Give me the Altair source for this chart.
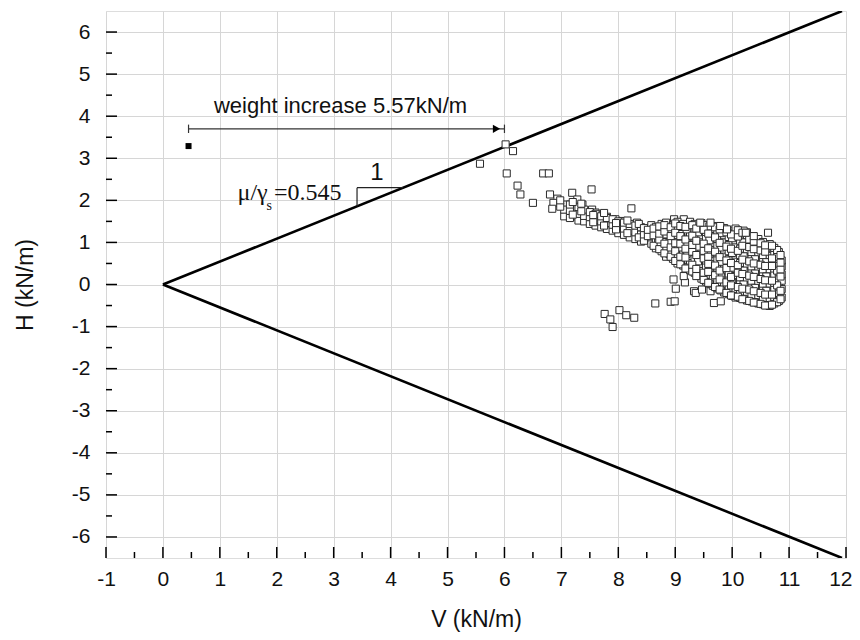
import altair as alt
import pandas as pd

# ---------------- data ----------------
x_ticks = list(range(-1, 13))
y_ticks = list(range(-6, 7))
x_minor = [i + 0.5 for i in range(-1, 12)]
y_minor = [i + 0.5 for i in range(-6, 6)]

# failure envelope (slope mu/gamma_s = 0.545)
env_V = [0, 11.93, 0, 11.93]
env_H = [0, 6.5, 0, -6.5]
env_seg = ["up", "up", "down", "down"]

# sparse / stream points
sparse_V = [5.57, 6.02, 6.15, 6.04, 6.68, 6.78, 6.23, 6.28, 6.50, 6.80, 6.93, 6.86, 6.84,
            7.19, 7.28, 7.37, 7.10, 7.13, 7.22, 7.34, 7.25, 7.53, 7.54, 7.60, 7.69, 7.51,
            7.72, 7.66, 7.80, 7.77, 8.23, 7.95, 8.07, 8.13, 8.21, 8.33, 8.39, 8.18, 8.48,
            8.57, 8.65, 8.51, 8.74, 8.98, 9.15, 8.92, 9.04, 9.21]
sparse_H = [2.87, 3.33, 3.17, 2.64, 2.64, 2.64, 2.35, 2.14, 1.94, 2.14, 2.04, 1.94, 1.80,
            2.18, 2.02, 1.90, 1.90, 1.74, 1.62, 1.59, 1.82, 2.26, 1.78, 1.71, 1.66, 1.56,
            1.39, 1.55, 1.61, 1.51, 1.81, 1.55, 1.51, 1.39, 1.43, 1.47, 1.35, 1.31, 1.31,
            1.35, 1.27, 1.17, 1.23, 1.55, 1.55, 1.39, 1.43, 1.39]

stream_cols = {
    7.05: [1.62, 1.78], 7.15: [1.58, 1.75, 1.90], 7.30: [1.52, 1.68, 1.84],
    7.40: [1.50, 1.63, 1.78], 7.50: [1.44, 1.60, 1.72], 7.60: [1.40, 1.53, 1.68],
    7.70: [1.36, 1.50, 1.62], 7.80: [1.32, 1.46, 1.58], 7.90: [1.28, 1.42, 1.55],
    8.00: [1.22, 1.37, 1.50], 8.10: [1.18, 1.33, 1.47], 8.20: [1.12, 1.28, 1.44],
    8.30: [1.08, 1.24, 1.40], 8.40: [1.02, 1.19, 1.36],
    6.98: [1.85, 2.00], 7.20: [1.66, 1.96], 7.35: [1.74, 1.92],
    7.56: [1.48, 1.65], 7.75: [1.40, 1.70], 7.96: [1.31, 1.46],
    8.16: [1.22, 1.52], 8.36: [1.12, 1.44],
}

low_V = [7.76, 7.86, 7.90, 8.02, 8.14, 8.28, 8.65, 8.92, 8.99, 9.01, 8.97, 9.17, 9.15,
         9.33, 9.36, 9.47, 9.62, 9.68, 9.80]
low_H = [-0.70, -0.83, -1.01, -0.61, -0.73, -0.79, -0.45, -0.41, -0.40, -0.10, 0.12, 0.05,
         0.20, -0.16, -0.20, -0.12, -0.16, -0.44, -0.40]

dense_cols = {
    8.45: [1.04, 1.19, 1.34],
    8.58: [0.97, 1.12, 1.27, 1.41],
    8.66: [0.86, 1.05, 1.22, 1.37],
    8.76: [0.79, 0.93, 1.12, 1.29, 1.44],
    8.84: [0.66, 0.86, 1.01, 1.19, 1.34, 1.47],
    8.96: [0.61, 0.74, 0.94, 1.08, 1.26, 1.40],
    9.04: [0.50, 0.70, 0.85, 1.04, 1.18, 1.36, 1.49],
    9.14: [0.45, 0.59, 0.79, 0.93, 1.11, 1.26, 1.44],
    9.26: [0.34, 0.53, 0.68, 0.87, 1.02, 1.20, 1.35, 1.49],
    9.34: [0.28, 0.43, 0.62, 0.77, 0.96, 1.11, 1.29, 1.44],
    9.46: [0.14, 0.34, 0.49, 0.68, 0.83, 1.02, 1.17, 1.35, 1.46],
    9.54: [0.07, 0.23, 0.42, 0.57, 0.76, 0.91, 1.10, 1.25, 1.41],
    9.66: [-0.03, 0.16, 0.31, 0.50, 0.65, 0.84, 0.99, 1.18, 1.32],
    9.74: [-0.09, 0.06, 0.25, 0.40, 0.59, 0.74, 0.93, 1.08, 1.27, 1.39],
    9.86: [-0.19, 0.00, 0.15, 0.34, 0.49, 0.68, 0.83, 1.02, 1.17, 1.34],
    9.94: [-0.23, -0.08, 0.11, 0.26, 0.45, 0.60, 0.79, 0.94, 1.13, 1.28],
    10.06: [-0.31, -0.12, 0.03, 0.22, 0.37, 0.56, 0.71, 0.90, 1.05, 1.24, 1.33],
    10.14: [-0.32, -0.17, 0.02, 0.17, 0.36, 0.51, 0.70, 0.85, 1.04, 1.19],
    10.26: [-0.38, -0.19, -0.04, 0.15, 0.30, 0.49, 0.64, 0.83, 0.98, 1.17, 1.24],
    10.34: [-0.40, -0.25, -0.06, 0.09, 0.28, 0.43, 0.62, 0.77, 0.96, 1.11],
    10.46: [-0.45, -0.26, -0.11, 0.08, 0.23, 0.42, 0.57, 0.76, 0.91, 1.08],
    10.54: [-0.47, -0.32, -0.13, 0.02, 0.21, 0.36, 0.55, 0.70, 0.89, 1.01],
    10.66: [-0.51, -0.32, -0.17, 0.02, 0.17, 0.36, 0.51, 0.70, 0.85, 0.96],
    10.74: [-0.45, -0.30, -0.11, 0.04, 0.23, 0.38, 0.57, 0.71, 0.87],
    10.82: [-0.39, -0.20, -0.05, 0.14, 0.29, 0.48, 0.61, 0.77],
    10.87: [-0.31, -0.11, 0.09, 0.24, 0.43, 0.57],
    8.70: [1.00, 1.30],
    8.90: [0.72, 1.00, 1.30],
    9.10: [0.55, 0.88, 1.20],
    9.20: [0.40, 0.73, 0.98, 1.31],
    9.40: [0.22, 0.55, 0.90, 1.24],
    9.60: [0.02, 0.38, 0.72, 1.05, 1.38],
    9.80: [-0.14, 0.20, 0.54, 0.88, 1.22],
    10.00: [-0.27, 0.06, 0.40, 0.75, 1.10],
    10.20: [-0.34, 0.00, 0.33, 0.67, 1.00, 1.28],
    10.40: [-0.42, -0.08, 0.26, 0.60, 0.94],
    10.60: [-0.49, -0.15, 0.19, 0.53, 0.86],
    10.79: [-0.42, -0.02, 0.33, 0.66, 0.82],
    8.52: [1.15, 1.30],
    8.62: [0.92, 1.17, 1.33],
    8.72: [0.84, 1.07, 1.21, 1.38],
    8.81: [0.74, 0.97, 1.26, 1.41],
    8.92: [0.66, 0.88, 1.15, 1.36],
    9.00: [0.56, 0.79, 0.98, 1.23, 1.45],
    9.09: [0.48, 0.66, 0.97, 1.15, 1.39],
    9.18: [0.38, 0.64, 0.85, 1.07, 1.37],
    9.30: [0.31, 0.47, 0.78, 0.94, 1.16, 1.41],
    9.37: [0.20, 0.37, 0.70, 1.04, 1.33],
    9.50: [0.11, 0.28, 0.62, 0.80, 0.97, 1.30],
    9.58: [0.04, 0.30, 0.49, 0.66, 0.86, 1.21],
    9.70: [-0.06, 0.22, 0.45, 0.78, 1.12, 1.36],
    9.78: [-0.12, 0.12, 0.33, 0.65, 0.99, 1.31],
    9.90: [-0.20, 0.05, 0.39, 0.57, 0.90, 1.24],
    9.98: [-0.26, -0.02, 0.18, 0.51, 0.85, 1.19],
    10.10: [-0.29, -0.06, 0.28, 0.46, 0.80, 1.14, 1.29],
    10.18: [-0.35, -0.10, 0.25, 0.59, 0.92, 1.23],
    10.30: [-0.39, -0.12, 0.21, 0.55, 0.89, 1.07],
    10.38: [-0.43, -0.16, 0.18, 0.50, 0.84, 1.02],
    10.50: [-0.46, -0.20, 0.13, 0.47, 0.81, 0.98],
    10.58: [-0.50, -0.24, 0.10, 0.44, 0.78, 0.93],
    10.70: [-0.48, -0.24, 0.09, 0.44, 0.62, 0.92],
    10.85: [-0.35, -0.15, 0.19, 0.36, 0.52, 0.70],
}
extra_V = [10.24, 10.63, 9.62, 9.44, 9.79, 9.91, 10.38]
extra_H = [1.23, 1.23, 1.47, 1.47, 1.39, 1.31, 1.15]

# annotation values
arrow_V = [0.45, 6.0]
arrow_H = 3.70
start_V, start_H = 0.45, 3.29
slope_V = [3.41, 4.22]
slope_H = [1.86, 2.30]

# ---------------- build tables ----------------
pts_V, pts_H = [], []
pts_V += sparse_V; pts_H += sparse_H
for v, hs in stream_cols.items():
    pts_V += [v] * len(hs); pts_H += hs
pts_V += low_V; pts_H += low_H
for v, hs in dense_cols.items():
    pts_V += [v] * len(hs); pts_H += hs
pts_V += extra_V; pts_H += extra_H
pts = pd.DataFrame({"V": pts_V, "H": pts_H})

env = pd.DataFrame({"V": env_V, "H": env_H, "seg": env_seg})

xs = alt.Scale(domain=[-1, 12], nice=False, zero=False)
ys = alt.Scale(domain=[-6.5, 6.5], nice=False, zero=False)
FONT = "Liberation Sans"

xaxis = alt.Axis(values=x_ticks, title="V (kN/m)", grid=True, gridColor="#d6d6d6",
                 gridWidth=1, ticks=False, domain=False, labelFont=FONT,
                 labelFontSize=21, labelColor="#111", labelPadding=10, labelFlush=False,
                 labelOverlap=False, titleFont=FONT, titleFontSize=23,
                 titleFontWeight="normal", titleColor="#111", titlePadding=19,
                 labelExpr="'' + datum.value",
                 labelAlign={"condition": {"test": "datum.value == 12", "value": "right"},
                             "value": "center"},
                 labelOffset={"condition": {"test": "datum.value == 12", "value": 6},
                              "value": 0})
yaxis = alt.Axis(values=y_ticks, title="H (kN/m)", grid=True, gridColor="#d6d6d6",
                 gridWidth=1, ticks=False, domain=False, labelFont=FONT,
                 labelFontSize=21, labelColor="#111", labelPadding=16, labelFlush=False,
                 labelOverlap=False, titleFont=FONT, titleFontSize=23,
                 titleFontWeight="normal", titleColor="#111", titlePadding=34,
                 labelExpr="'' + datum.value")

X = lambda f="V": alt.X(f"{f}:Q", scale=xs, axis=xaxis)
Y = lambda f="H": alt.Y(f"{f}:Q", scale=ys, axis=yaxis)

base = alt.Chart(pts).mark_point(shape="square", filled=True, fill="white",
                                 stroke="#2a2a2a", strokeWidth=1, size=50,
                                 opacity=1).encode(x=X(), y=Y())

lines = alt.Chart(env).mark_line(color="black", strokeWidth=2.6, clip=True).encode(
    x=X(), y=Y(), detail="seg:N")

# inward tick marks
xt_major = alt.Chart(pd.DataFrame({"V": x_ticks})).mark_rule(color="black", strokeWidth=1.5).encode(
    x=X(), y=alt.value(547), y2=alt.value(536))
xt_minor = alt.Chart(pd.DataFrame({"V": x_minor})).mark_rule(color="black", strokeWidth=1.5).encode(
    x=X(), y=alt.value(547), y2=alt.value(541))
yt_major = alt.Chart(pd.DataFrame({"H": y_ticks})).mark_rule(color="black", strokeWidth=1.5).encode(
    y=Y(), x=alt.value(0), x2=alt.value(11))
yt_minor = alt.Chart(pd.DataFrame({"H": y_minor})).mark_rule(color="black", strokeWidth=1.5).encode(
    y=Y(), x=alt.value(0), x2=alt.value(6))

# arrow "weight increase"
arrow_df = pd.DataFrame({"V": [arrow_V[0]], "V2": [arrow_V[1]], "H": [arrow_H]})
arrow = alt.Chart(arrow_df).mark_rule(color="#333", strokeWidth=1.2).encode(
    x=X(), x2="V2:Q", y=Y())
bars_df = pd.DataFrame({"V": arrow_V, "H": [arrow_H - 0.1] * 2, "H2": [arrow_H + 0.1] * 2})
bars = alt.Chart(bars_df).mark_rule(color="#333", strokeWidth=1.2).encode(
    x=X(), y=Y(), y2="H2:Q")
head = alt.Chart(pd.DataFrame({"V": [arrow_V[1] - 0.14], "H": [arrow_H]})).mark_point(
    shape="triangle-right", filled=True, color="black", size=70, opacity=1).encode(x=X(), y=Y())
start = alt.Chart(pd.DataFrame({"V": [start_V], "H": [start_H]})).mark_point(
    shape="square", filled=True, color="black", size=36, opacity=1).encode(x=X(), y=Y())
wtext = alt.Chart(pd.DataFrame({"V": [3.12], "H": [4.25], "t": ["weight increase 5.57kN/m"]})).mark_text(
    font=FONT, fontSize=22, color="#111", baseline="middle", align="center").encode(
    x=X(), y=Y(), text="t:N")

# slope triangle
hseg = alt.Chart(pd.DataFrame({"V": [slope_V[0]], "V2": [slope_V[1]], "H": [slope_H[1]]})).mark_rule(
    color="#222", strokeWidth=1.2).encode(x=X(), x2="V2:Q", y=Y())
vseg = alt.Chart(pd.DataFrame({"V": [slope_V[0]], "H": [slope_H[0]], "H2": [slope_H[1]]})).mark_rule(
    color="#222", strokeWidth=1.2).encode(x=X(), y=Y(), y2="H2:Q")
one = alt.Chart(pd.DataFrame({"V": [3.76], "H": [2.66], "t": ["1"]})).mark_text(
    font=FONT, fontSize=24, color="#111", baseline="middle", align="center").encode(
    x=X(), y=Y(), text="t:N")
mu1 = alt.Chart(pd.DataFrame({"V": [1.84], "H": [2.02], "t": ["μ/γ"]})).mark_text(
    font="Liberation Serif", fontSize=24, color="#111", baseline="alphabetic", align="right").encode(
    x=X(), y=Y(), text="t:N")
mu2 = alt.Chart(pd.DataFrame({"V": [1.82], "H": [1.76], "t": ["s"]})).mark_text(
    font="Liberation Serif", fontSize=14, color="#111", baseline="alphabetic", align="left").encode(
    x=X(), y=Y(), text="t:N")
mu3 = alt.Chart(pd.DataFrame({"V": [1.95], "H": [2.02], "t": ["=0.545"]})).mark_text(
    font="Liberation Serif", fontSize=24, color="#111", baseline="alphabetic", align="left").encode(
    x=X(), y=Y(), text="t:N")

chart = alt.layer(
    lines, base, arrow, bars, head, start, wtext, hseg, vseg, one, mu1, mu2, mu3,
    xt_major, xt_minor, yt_major, yt_minor,
).properties(
    width=740, height=547,
    autosize=alt.AutoSizeParams(type="none"),
    padding={"left": 98, "top": 3, "right": 6, "bottom": 75},
).configure_view(stroke="black", strokeWidth=2.2).configure(background="white")

chart.save("out.html", embed_options={"renderer": "svg", "actions": False})
